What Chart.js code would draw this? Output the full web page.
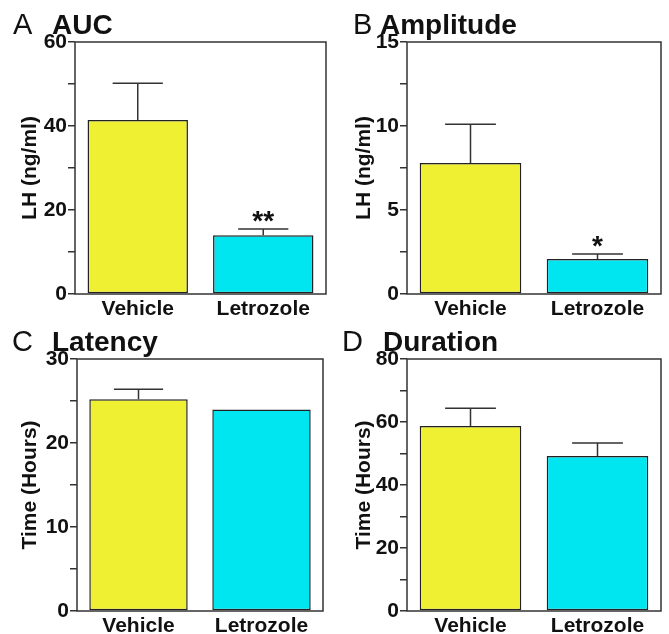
<!DOCTYPE html>
<html>
<head>
<meta charset="utf-8">
<script src="https://cdn.jsdelivr.net/npm/chart.js@4.4.1/dist/chart.umd.min.js"></script>
<style>
  body { margin: 0; background: #fff; }
  #wrap { position: relative; width: 669px; height: 634px; }
  canvas { position: absolute; }
</style>
</head>
<body>
<div id="wrap">
  <canvas id="cA" width="334" height="317" style="left:0;top:0"></canvas>
  <canvas id="cB" width="335" height="317" style="left:334px;top:0"></canvas>
  <canvas id="cC" width="334" height="317" style="left:0;top:317px"></canvas>
  <canvas id="cD" width="335" height="317" style="left:334px;top:317px"></canvas>
</div>
<script>
// data
const categories = ['Vehicle', 'Letrozole'];

const aucMean = [41.4, 14.0];
const aucSem  = [8.8, 1.5];
const aucStars = ['', '**'];

const ampMean = [7.8, 2.08];
const ampSem  = [2.3, 0.3];
const ampStars = ['', '*'];

const latMean = [25.2, 24.0];
const latSem  = [1.2, 0];
const latStars = ['', ''];

const durMean = [58.7, 49.2];
const durSem  = [5.7, 4.1];
const durStars = ['', ''];

const yMaxes  = [60, 15, 30, 80];
const yMajors = [20, 5, 10, 20];
const letters = ['A', 'B', 'C', 'D'];
const titles  = ['AUC', 'Amplitude', 'Latency', 'Duration'];
const yTitles = ['LH (ng/ml)', 'LH (ng/ml)', 'Time (Hours)', 'Time (Hours)'];

const barColors = ['#f0f032', '#00e6f0'];
const lineColor = '#333';
const FONT = '"Liberation Sans", Arial, Helvetica, sans-serif';

// where the letter and the title sit in each canvas
const layout = [
  { id: 'cA', left: 75, right: 8, letterX: 13, titleX: 52 },
  { id: 'cB', left: 73, right: 8, letterX: 19, titleX: 46 },
  { id: 'cC', left: 77, right: 11, letterX: 12, titleX: 52 },
  { id: 'cD', left: 73, right: 8, letterX: 8, titleX: 49 }
];

const panelPlugin = {
  id: 'panel',
  afterDatasetsDraw(chart, args, opts) {
    const ctx = chart.ctx;
    const meta = chart.getDatasetMeta(0);
    const ys = chart.scales.y;
    ctx.save();
    ctx.strokeStyle = lineColor;
    ctx.lineWidth = 1.5;
    meta.data.forEach((bar, i) => {
      const top = ys.getPixelForValue(opts.mean[i] + opts.sem[i]);
      const half = bar.width / 4;
      if (opts.sem[i] > 0) {
        ctx.beginPath();
        ctx.moveTo(bar.x, bar.y);
        ctx.lineTo(bar.x, top);
        ctx.moveTo(bar.x - half, top);
        ctx.lineTo(bar.x + half, top);
        ctx.stroke();
      }
      if (opts.stars[i]) {
        ctx.fillStyle = '#111';
        ctx.font = 'bold 28px ' + FONT;
        ctx.textAlign = 'center';
        ctx.textBaseline = 'alphabetic';
        ctx.fillText(opts.stars[i], bar.x, top + 1);
      }
    });
    ctx.restore();
  },
  afterDraw(chart, args, opts) {
    const ctx = chart.ctx;
    const a = chart.chartArea;
    ctx.save();
    ctx.strokeStyle = lineColor;
    ctx.lineWidth = 1.5;
    ctx.strokeRect(a.left, a.top, a.right - a.left, a.bottom - a.top);
    ctx.fillStyle = '#111';
    ctx.textAlign = 'left';
    ctx.textBaseline = 'alphabetic';
    ctx.font = '29px ' + FONT;
    ctx.fillText(opts.letter, opts.letterX, 34);
    ctx.font = 'bold 28px ' + FONT;
    ctx.fillText(opts.title, opts.titleX, 34);
    ctx.restore();
  }
};

function makePanel(k, mean, sem, stars) {
  const L = layout[k];
  const major = yMajors[k];
  new Chart(document.getElementById(L.id), {
    type: 'bar',
    data: {
      labels: categories,
      datasets: [{
        data: mean,
        backgroundColor: barColors,
        borderColor: '#222',
        borderWidth: 1.5,
        borderSkipped: false,
        barPercentage: 0.8,
        categoryPercentage: 1
      }]
    },
    options: {
      responsive: false,
      animation: false,
      layout: { padding: { top: 42, right: L.right, left: 0, bottom: 0 } },
      plugins: {
        legend: { display: false },
        tooltip: { enabled: false },
        panel: { mean: mean, sem: sem, stars: stars, letter: letters[k], title: titles[k], letterX: L.letterX, titleX: L.titleX }
      },
      scales: {
        x: {
          grid: { display: false },
          border: { display: false },
          ticks: { color: '#111', font: { family: FONT, size: 21, weight: 'bold' }, padding: -5 },
          afterFit(s) { s.height = 23; }
        },
        y: {
          min: 0,
          max: yMaxes[k],
          grid: { drawOnChartArea: false, color: lineColor, lineWidth: 1.5, tickLength: 7 },
          border: { display: false },
          ticks: {
            stepSize: major / 2,
            color: '#111',
            padding: 1,
            font: { family: FONT, size: 21, weight: 'bold' },
            callback: v => (Math.abs(v % major) < 1e-9 ? v : '')
          },
          title: {
            display: true,
            text: yTitles[k],
            color: '#111',
            font: { family: FONT, size: 21, weight: 'bold' },
            padding: { top: 18, bottom: 0 }
          },
          afterFit(s) { s.width = L.left; }
        }
      }
    },
    plugins: [panelPlugin]
  });
}

makePanel(0, aucMean, aucSem, aucStars);
makePanel(1, ampMean, ampSem, ampStars);
makePanel(2, latMean, latSem, latStars);
makePanel(3, durMean, durSem, durStars);
</script>
</body>
</html>
